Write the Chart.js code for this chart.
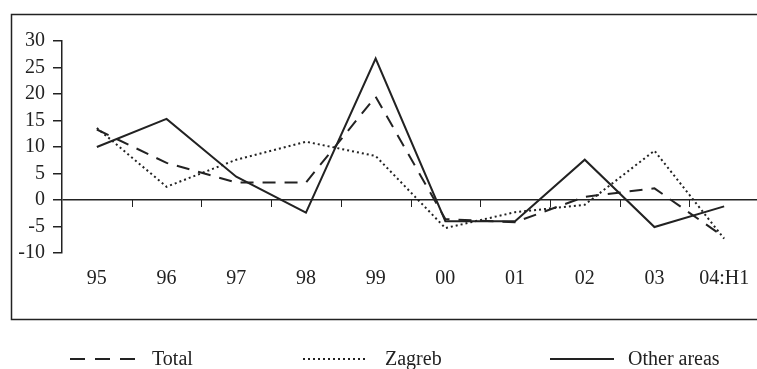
<!DOCTYPE html>
<html>
<head>
<meta charset="utf-8">
<script src="https://cdn.jsdelivr.net/npm/chart.js@4.4.0/dist/chart.umd.min.js"></script>
<style>
  html, body { margin: 0; padding: 0; background: #fff; overflow: hidden; }
  #wrap { width: 760px; height: 369px; }
</style>
</head>
<body>
<div id="wrap"><canvas id="chart" width="760" height="369"></canvas></div>
<script>
// Categories (years) and series values
const years = ['95', '96', '97', '98', '99', '00', '01', '02', '03', '04:H1'];
const totalValues = [13.3, 7, 3.3, 3.3, 19.5, -3.6, -4.2, 0.6, 2.2, -7];
const zagrebValues = [13.6, 2.5, 7.6, 11, 8.3, -5.3, -2.3, -0.9, 9.3, -7.3];
const otherValues = [10, 15.3, 4.4, -2.4, 26.7, -4, -4, 7.6, -5.1, -1.2];
const yTicks = [-10, -5, 0, 5, 10, 15, 20, 25, 30];

const ink = '#222';
const serif = "'Liberation Serif', 'DejaVu Serif', serif";

// frame, x tick marks on the zero line, and the legend
const decorations = {
  id: 'decorations',
  afterDraw(chart) {
    const c = chart.ctx;
    const x = chart.scales.x;
    const y = chart.scales.y;
    c.save();
    c.strokeStyle = ink;

    // outer frame (right side runs off the page)
    c.lineWidth = 1.5;
    c.beginPath();
    c.moveTo(765, 14.5);
    c.lineTo(11.5, 14.5);
    c.lineTo(11.5, 319.5);
    c.lineTo(765, 319.5);
    c.stroke();

    // category tick marks hanging under the zero line
    const y0 = y.getPixelForValue(0);
    c.lineWidth = 1;
    c.beginPath();
    for (let i = 0; i < years.length - 1; i++) {
      const bx = Math.round((x.getPixelForValue(i) + x.getPixelForValue(i + 1)) / 2) + 0.5;
      c.moveTo(bx, y0);
      c.lineTo(bx, y0 + 7);
    }
    c.stroke();

    // legend
    const slots = [[70, 135, 152], [303, 367, 385], [550, 614, 628]];
    const ly = 359;
    chart.data.datasets.forEach((ds, i) => {
      const s = slots[i];
      c.beginPath();
      c.lineWidth = ds.borderWidth;
      c.setLineDash(i === 0 ? [15, 10] : (ds.borderDash || []));
      c.moveTo(s[0], ly);
      c.lineTo(s[1], ly);
      c.stroke();
      c.setLineDash([]);
      c.fillStyle = ink;
      c.font = '20px ' + serif;
      c.textBaseline = 'middle';
      c.fillText(ds.label, s[2], ly + 1);
    });
    c.restore();
  }
};

new Chart(document.getElementById('chart'), {
  type: 'line',
  data: {
    labels: years,
    datasets: [
      {
        label: 'Total',
        data: totalValues,
        borderColor: ink,
        borderWidth: 2,
        borderDash: [13, 9],
        pointRadius: 0,
        tension: 0,
        fill: false
      },
      {
        label: 'Zagreb',
        data: zagrebValues,
        borderColor: ink,
        borderWidth: 2,
        borderDash: [2, 3],
        pointRadius: 0,
        tension: 0,
        fill: false
      },
      {
        label: 'Other areas',
        data: otherValues,
        borderColor: ink,
        borderWidth: 2,
        pointRadius: 0,
        tension: 0,
        fill: false
      }
    ]
  },
  options: {
    responsive: false,
    animation: false,
    layout: { padding: { top: 41, left: 0, right: 1, bottom: 0 } },
    plugins: {
      legend: { display: false },
      tooltip: { enabled: false }
    },
    scales: {
      x: {
        offset: true,
        grid: { display: false, offset: true },
        border: { display: false },
        ticks: {
          color: ink,
          font: { family: serif, size: 20 },
          padding: 6,
          maxRotation: 0,
          autoSkip: false
        },
        afterFit(scale) { scale.height = 116; }
      },
      y: {
        min: -10,
        max: 30,
        afterBuildTicks(scale) { scale.ticks = yTicks.map(v => ({ value: v })); },
        grid: {
          drawOnChartArea: true,
          color: ctx => (ctx.tick && ctx.tick.value === 0 ? ink : 'rgba(0,0,0,0)'),
          tickColor: ink,
          tickLength: 9,
          lineWidth: 1.5
        },
        border: { display: true, color: ink, width: 1.5 },
        ticks: {
          color: ink,
          font: { family: serif, size: 20 },
          padding: 8,
          autoSkip: false
        },
        afterFit(scale) { scale.width = 62; }
      }
    }
  },
  plugins: [decorations]
});
</script>
</body>
</html>
